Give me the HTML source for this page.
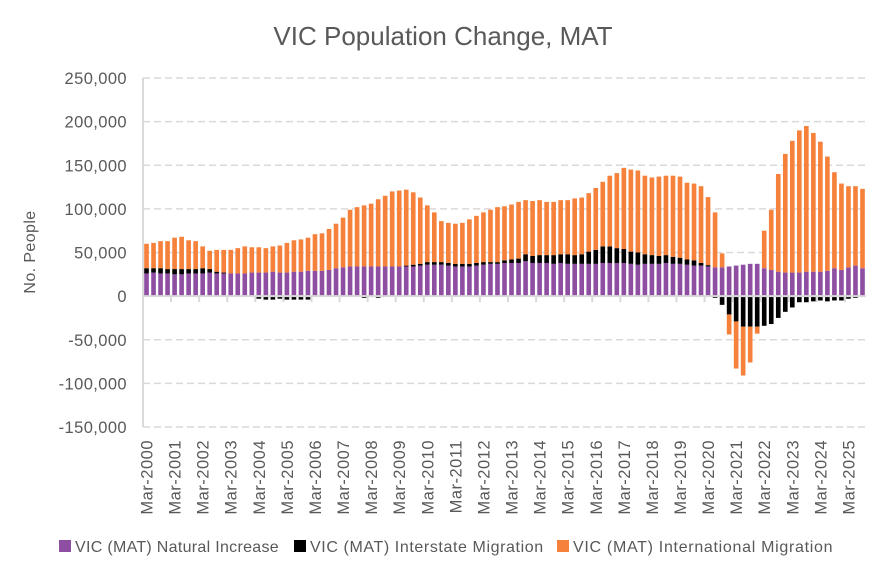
<!DOCTYPE html>
<html><head><meta charset="utf-8"><style>
body{margin:0;background:#fff;}
svg text{font-family:"Liberation Sans",sans-serif;fill:#595959;}
</style></head><body>
<svg id="chart" width="886" height="577" xmlns="http://www.w3.org/2000/svg">
<rect width="886" height="577" fill="#fff"/>
<text x="443" y="45" text-anchor="middle" font-size="26">VIC Population Change, MAT</text>
<text transform="translate(35,252) rotate(-90)" text-anchor="middle" font-size="16" letter-spacing="0.4">No. People</text>
<g id="grid"></g><g id="bars"></g><g id="axes"></g>
<g font-size="16">
<rect x="59" y="540" width="12" height="12" fill="#8e4fa2"/>
<text x="75" y="552" letter-spacing="0.3">VIC (MAT) Natural Increase</text>
<rect x="294" y="540" width="12" height="12" fill="#000"/>
<text x="310" y="552" letter-spacing="0.6">VIC (MAT) Interstate Migration</text>
<rect x="557" y="540" width="12" height="12" fill="#f5813b"/>
<text x="573" y="552" letter-spacing="0.7">VIC (MAT) International Migration</text>
</g>
</svg>
<script>
const natural=[26,27,26,26,25,25,26,26,26,27,26,26,26,26,26,27,27,27,28,27,27,28,28,29,29,29,30,32,33,34,34,34,34,34,34,34,
34,34,34,35,36,36,36,35,34,34,34,35,36,37,37,38,38,38,40,38,38,38,37,38,37,37,37,37,37,38,38,38,
38,37,36,37,37,37,38,37,37,36,35,35,34,33,33,34,35,36,37,37,32,30,28,27,27,27,28,28,28,29,32,30,33,35,32];
const interstate=[6,5,6,5,6,6,5,5,6,4,2,1,-1,-1,-1,-1,-3,-4,-4,-3,-4,-4,-4,-4,-1,-1,-1,-1,-1,-1,-1,-2,-1,-2,-1,-1,
0,1,2,2,3,3,3,3,3,3,3,3,3,2,2,3,4,5,8,8,9,9,10,10,11,10,11,14,16,19,19,17,
16,14,14,11,10,9,9,8,7,6,6,3,1.5,-2,-10,-21,-29,-35,-35,-35,-34,-32,-25,-18,-13,-7,-7,-6,-5,-6,-5,-5,-3,-2,0];
const international=[28,29,31,32,36,37,33,32,25,21,25,26,27,29,31,29,29,28,29,31,34,36,37,38,42,43,47,51,57,65,68,70,72,77,81,86,
87,87,83,76,65,57,47,46,46,47,51,54,57,60,63,62,63,65,62,63,63,61,61,62,62,65,65,67,71,74,81,86,
93,94,94,90,89,91,91,93,93,88,88,88,78,63,16,-23,-54,-56,-41,-8,43,69,112,136,151,163,167,159,149,131,110,99,93,91,91];
const yTicks=[250,200,150,100,50,0,-50,-100,-150];
const startYear=2000;

const NS="http://www.w3.org/2000/svg";
const x0=143,x1=866,yTop=78,yBot=427,vMax=250,vMin=-150;
const n=natural.length, slot=(x1-x0)/n, bw=slot*0.66;
function yS(v){return yTop+(vMax-v)*(yBot-yTop)/(vMax-vMin);}
function xS(i){return x0+slot*(i+0.5);}
function mk(tag,attrs,parent){const e=document.createElementNS(NS,tag);for(const k in attrs)e.setAttribute(k,attrs[k]);parent.appendChild(e);return e;}
const grid=document.getElementById('grid'),bars=document.getElementById('bars'),axes=document.getElementById('axes');
yTicks.forEach(v=>{
  const y=yS(v);
  if(v!==0){const l=mk('line',{x1:x0,x2:x1,y1:y,y2:y,stroke:'#d9d9d9','stroke-width':1.5,'stroke-dasharray':'7,4'},grid);
    
    }
  const t=mk('text',{x:127,y:y+6,'text-anchor':'end','font-size':16.5,'letter-spacing':0.4},axes);
  
  
  t.textContent=v.toLocaleString('en-US',{maximumFractionDigits:0})+(v===0?'':',000');
});
function rect(i,a,b,color,name){
  const ya=yS(a),yb=yS(b);
  const r=mk('rect',{x:xS(i)-bw/2,y:Math.min(ya,yb),width:bw,height:Math.abs(yb-ya),fill:color},bars);
  
  
}
for(let i=0;i<n;i++){
  let pos=0,neg=0;
  const segs=[[natural[i],'#8e4fa2','bar-natural-increase'],[interstate[i],'#000','bar-interstate-migration'],[international[i],'#f5813b','bar-international-migration']];
  segs.forEach(([v,c,nm])=>{
    if(v>=0){rect(i,pos,pos+v,c,nm);pos+=v;}
    else{rect(i,neg,neg+v,c,nm);neg+=v;}
  });
}
const z=yS(0);
const za=mk('line',{x1:x0,x2:x1,y1:z,y2:z,stroke:'#d9d9d9','stroke-width':2},axes);


const ya=mk('line',{x1:x0,x2:x0,y1:yTop,y2:yBot,stroke:'#d9d9d9','stroke-width':2},axes);


for(let i=0;i<n;i+=4){
  const tx=x0+slot*i;
  if(i>0){const tk=mk('line',{x1:tx,x2:tx,y1:z,y2:z+6,stroke:'#d9d9d9','stroke-width':2},axes);
    
    }
  const cx=xS(i)+6;
  const t=mk('text',{transform:`translate(${cx},440) rotate(-90)`,'text-anchor':'end','font-size':16.5,'letter-spacing':0.5},axes);
  
  
  t.textContent='Mar-'+(startYear+i/4);
}
</script>
</body></html>
